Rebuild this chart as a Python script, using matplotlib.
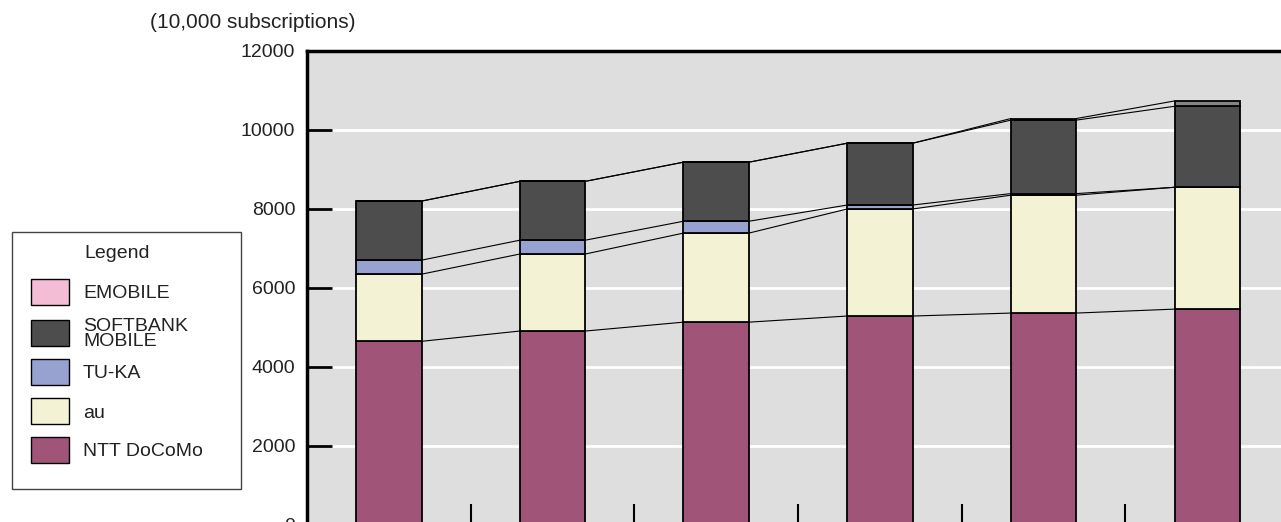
import matplotlib
matplotlib.use('Agg')
import matplotlib.pyplot as plt
from matplotlib.patches import Rectangle

plt.rcParams['font.family'] = ['Liberation Sans', 'DejaVu Sans']

# fiscal years (labels fall below the cropped area)
years = ['FY2002', 'FY2003', 'FY2004', 'FY2005', 'FY2006', 'FY2007']
docomo = [4650, 4910, 5135, 5290, 5365, 5465]
au = [1700, 1950, 2255, 2710, 2985, 3085]
tuka = [355, 350, 300, 100, 40, 0]
softbank = [1495, 1490, 1495, 1565, 1860, 2050]
emobile = [0, 0, 0, 0, 40, 135]

series = [docomo, au, tuka, softbank, emobile]
names = ['NTT DoCoMo', 'au', 'TU-KA', 'SOFTBANK\nMOBILE', 'EMOBILE']
bar_colors = ['#a05578', '#f3f2d5', '#97a2d0', '#4d4d4d', '#858585']
legend_colors = ['#a05578', '#f3f2d5', '#97a2d0', '#4d4d4d', '#f5bcd6']

fig = plt.figure(figsize=(12.81, 5.22), dpi=100)
ax = fig.add_axes([0.2397, -0.0057, 0.7666, 0.908])
ax.set_facecolor('#dedede')

x = list(range(len(years)))
w = 0.4
bottom = [0] * len(years)
tops = []
for vals, c in zip(series, bar_colors):
    ax.bar(x, vals, w, bottom=bottom, color=c, edgecolor='black', linewidth=1.3, zorder=3)
    bottom = [b + v for b, v in zip(bottom, vals)]
    tops.append(list(bottom))

# connecting lines between bar segments
for t in tops:
    for i in range(len(years) - 1):
        ax.plot([x[i] + w / 2, x[i + 1] - w / 2], [t[i], t[i + 1]],
                color='black', linewidth=0.8, zorder=2)

ax.set_xlim(-0.5, len(years) - 0.5)
ax.set_ylim(0, 12000)
ax.set_yticks(range(0, 12001, 2000))
ax.yaxis.grid(True, color='white', linewidth=2, zorder=1)
ax.set_axisbelow(True)
ax.set_xticks([i + 0.5 for i in range(len(years) - 1)])
ax.set_xticklabels([])
ax.tick_params(axis='x', direction='in', length=15, width=1.5, color='black')
ax.tick_params(axis='y', direction='in', length=18, width=2, labelsize=14, pad=8.5,
               labelcolor='#222222')
for s in ['left', 'top']:
    ax.spines[s].set_linewidth(2.5)
ax.spines['right'].set_visible(False)
ax.spines['bottom'].set_visible(False)

fig.text(0.117, 0.957, '(10,000 subscriptions)', fontsize=15, color='#222222', va='center')

# legend drawn in pixel coordinates on an overlay
lg = fig.add_axes([0, 0, 1, 1], facecolor='none')
lg.set_xlim(0, 1281)
lg.set_ylim(522, 0)
lg.axis('off')
lg.add_patch(Rectangle((12, 232), 229, 257, facecolor='white', edgecolor='#444444', linewidth=1))
lg.text(117.5, 253, 'Legend', fontsize=14, ha='center', va='center', color='#222222')
patch_y = [437, 398, 359, 320, 279]
text_y = [451, 413, 373, 334, 293]
for c, n, py, ty in zip(legend_colors, names, patch_y, text_y):
    lg.add_patch(Rectangle((31, py), 38, 26, facecolor=c, edgecolor='black', linewidth=1))
    lg.text(83, ty, n, fontsize=14, ha='left', va='center', color='#222222', linespacing=0.85)

fig.savefig('out.png', dpi=100)
